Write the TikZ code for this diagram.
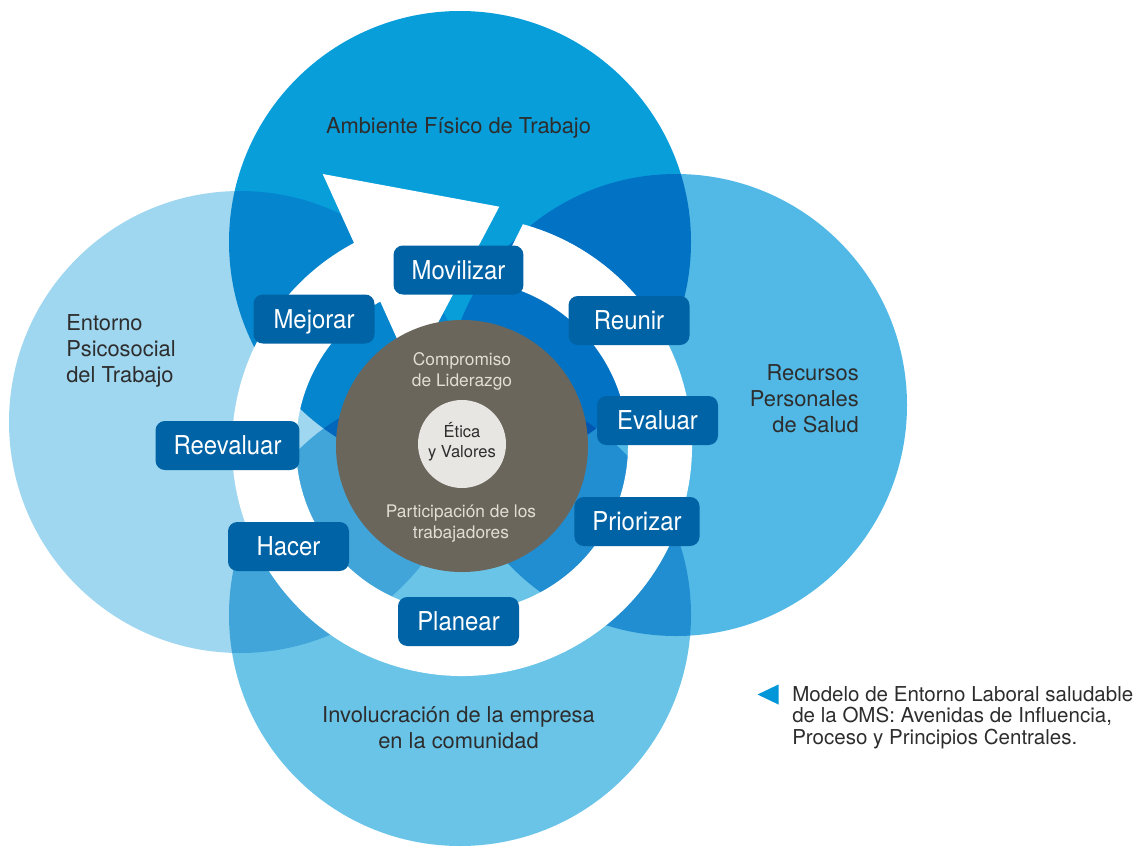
\documentclass[tikz,border=0pt]{standalone}
\usepackage{fontspec}
\setmainfont{TeX Gyre Heros}
\newfontfamily\fuentepaso{TeX Gyre Heros}[FakeStretch=0.92]
\usepackage{tikz}
\usepackage{xcolor}

\definecolor{azulFisico}{RGB}{8,158,218}
\definecolor{azulPsico}{RGB}{160,215,240}
\definecolor{azulRecursos}{RGB}{82,185,230}
\definecolor{azulComunidad}{RGB}{105,196,232}
\definecolor{azulPaso}{RGB}{0,99,165}
\definecolor{azulMarca}{RGB}{0,150,215}
\definecolor{cafeNucleo}{RGB}{107,102,92}
\definecolor{grisEtica}{RGB}{232,230,227}
\definecolor{grisTexto}{RGB}{45,45,45}
\definecolor{grisClaro}{RGB}{225,222,214}

\begin{document}
\begin{tikzpicture}[x=0.75pt,y=-0.75pt,
  paso/.style={fill=azulPaso,text=white,rounded corners=7pt,
    minimum width=90.75pt,minimum height=36.75pt,inner xsep=13.5pt,
    text height=16pt,text depth=2pt,
    font=\fuentepaso\fontsize{19.5}{22}\selectfont},
  zona/.style={text=grisTexto,inner sep=0pt,font=\fontsize{16.4}{19.3}\selectfont},
  principio/.style={inner sep=0pt,align=center,font=\fontsize{13}{15.75}\selectfont}]
  \useasboundingbox (0,0) rectangle (1141,846);

  % Avenidas de influencia (se superponen multiplicando)
  \begin{scope}[blend mode=multiply]
    \fill[azulFisico] (460,242) circle (231);
    \fill[azulPsico] (240,422) circle (231);
    \fill[azulRecursos] (676,405) circle (231);
    \fill[azulComunidad] (460,615) circle (231);
  \end{scope}

  % Flecha circular del proceso
  \begin{scope}[shift={(462,446)}]
    \fill[white] (285.35:230) arc[start angle=285.35,end angle=602,radius=230]
      -- (-139.3,-272) -- (37.3,-239.3) -- (-50,-74) -- (240.5:166)
      arc[start angle=240.5,end angle=-79,radius=166] -- cycle;
  \end{scope}

  % Principios centrales
  \fill[cafeNucleo] (462,446) circle (126);
  \fill[grisEtica] (462,444) circle (44);

  % Pasos del proceso
  \foreach \n/\x/\y/\t in {movilizar/458.5/270/Movilizar,
      reunir/629/320.5/Reunir, evaluar/657.5/420.5/Evaluar,
      priorizar/637/521.5/Priorizar, planear/458.5/621.5/Planear,
      hacer/288.5/546.5/Hacer, reevaluar/227.5/445.5/Reevaluar,
      mejorar/314/319/Mejorar}{
    \node[paso] (\n) at (\x,\y) {\t};
  }

  % Nombres de las avenidas (base = ultima linea)
  \node[zona,anchor=base] (fisico) at (458.5,133.5) {Ambiente Físico de Trabajo};
  \node[zona,anchor=base west,align=left] (psicosocial) at (66,382)
    {Entorno\\Psicosocial\\del Trabajo};
  \node[zona,anchor=base east,align=right] (recursos) at (859,432)
    {Recursos\\Personales\\de Salud};
  \node[zona,anchor=base,align=center] (comunidad) at (458.5,748)
    {Involucración de la empresa\\en la comunidad};

  % Textos del centro
  \node[principio,text=grisClaro,anchor=base] (liderazgo) at (462,386)
    {Compromiso\\de Liderazgo};
  \node[principio,text=grisTexto,anchor=base,font=\fontsize{12.4}{15}\selectfont]
    (valores) at (462,457) {Ética\\y Valores};
  \node[principio,text=grisClaro,anchor=base] (participacion) at (461,538)
    {Participación de los\\trabajadores};

  % Pie de figura
  \fill[azulMarca] (757.5,694.5) -- (778.5,684.5) -- (778.5,704.5) -- cycle;
  \node[text=grisTexto,inner sep=0pt,anchor=base west,align=left,
    font=\fontsize{15.4}{16.1}\selectfont] (pie) at (792,744)
    {Modelo de Entorno Laboral saludable\\de la OMS: Avenidas de Influencia,\\Proceso y Principios Centrales.};
\end{tikzpicture}
\end{document}
